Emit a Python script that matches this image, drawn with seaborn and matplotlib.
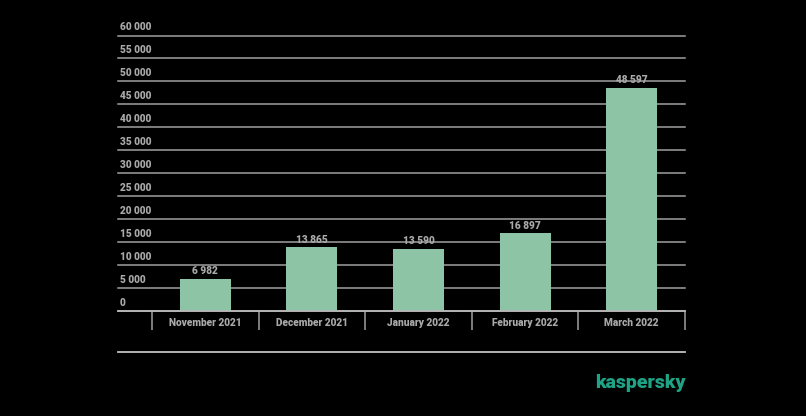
import matplotlib
matplotlib.use('Agg')
import matplotlib.pyplot as plt
import seaborn as sns

# chart data
months = ['November 2021', 'December 2021', 'January 2022', 'February 2022', 'March 2022']
attacks = [6982, 13865, 13590, 16897, 48597]
y_ticks = list(range(0, 60001, 5000))

bar_color = '#8dc4a6'
text_color = '#a9a9a9'
line_color = '#a0a0a0'

plt.rcParams['font.family'] = ['Roboto', 'DejaVu Sans']

fig = plt.figure(figsize=(8.06, 4.16), dpi=100, facecolor='black')
ax = fig.add_axes([118 / 806, 1 - 311 / 416, 567 / 806, 275.5 / 416])
ax.set_facecolor('black')

sns.barplot(x=months, y=attacks, color=bar_color, saturation=1, width=0.48, ax=ax)

ax.set_xlim(-0.819, 4.5)
ax.set_ylim(0, 60000)
ax.set_axisbelow(True)

# horizontal grid
ax.set_yticks(y_ticks)
ax.grid(axis='y', color=line_color, linewidth=1.1)
for gl in ax.get_ygridlines():
    gl.set_clip_on(False)
ax.tick_params(axis='y', left=False, labelleft=False)

# y labels sit above each grid line, inside the plot
for v in y_ticks:
    ax.annotate(f'{v:,}'.replace(',', ' '), xy=(0, v), xycoords=('axes fraction', 'data'),
                xytext=(1.5, 2.5), textcoords='offset points', ha='left', va='bottom',
                fontsize=7.3, fontweight='black', color=text_color, annotation_clip=False)

for s in ['top', 'right', 'left']:
    ax.spines[s].set_visible(False)
ax.spines['bottom'].set_color('#b8b8b8')
ax.spines['bottom'].set_linewidth(1.3)

# category labels and separators
ax.set_xticks(range(len(months)))
ax.set_xticklabels(months)
ax.set_xticks([i - 0.5 for i in range(len(months) + 1)], minor=True)
ax.tick_params(axis='x', which='major', length=0, pad=5, labelsize=7.3, labelcolor=text_color)
ax.tick_params(axis='x', which='minor', length=13.5, width=1.1, color=line_color, direction='out')
for lbl in ax.get_xticklabels():
    lbl.set_fontweight('black')
ax.set_xlabel('')
ax.set_ylabel('')

# value labels
ax.bar_label(ax.containers[0], labels=[f'{v:,}'.replace(',', ' ') for v in attacks],
             padding=2, fontsize=7.3, fontweight='black', color=text_color)

# bottom rule
ax.plot([0, 1], [-0.150, -0.150], transform=ax.transAxes, color='#c0c0c0',
        linewidth=1.3, clip_on=False)

fig.text(595 / 806, 1 - 383 / 416, 'kaspersky', color='#1fa386', fontsize=14,
         fontweight='black', ha='left', va='center')

fig.savefig('out.png', dpi=100, facecolor='black')
